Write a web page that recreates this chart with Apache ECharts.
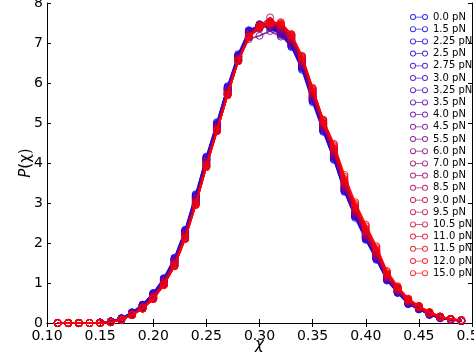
<!DOCTYPE html>
<html>
<head>
<meta charset="utf-8">
<script src="https://cdn.jsdelivr.net/npm/echarts@6/dist/echarts.min.js"></script>
<style>
  html, body { margin: 0; padding: 0; background: #fff; }
  #main { width: 474px; height: 356px; }
</style>
</head>
<body>
<div id="main"></div>
<script>
// chi values (x)
var chi = [0.11, 0.12, 0.13, 0.14, 0.15, 0.16, 0.17, 0.18, 0.19, 0.20,
  0.21, 0.22, 0.23, 0.24, 0.25, 0.26, 0.27, 0.28, 0.29, 0.30,
  0.31, 0.32, 0.33, 0.34, 0.35, 0.36, 0.37, 0.38, 0.39, 0.40,
  0.41, 0.42, 0.43, 0.44, 0.45, 0.46, 0.47, 0.48, 0.49];

var forces = ['0.0 pN', '1.5 pN', '2.25 pN', '2.5 pN', '2.75 pN', '3.0 pN', '3.25 pN', '3.5 pN',
  '4.0 pN', '4.5 pN', '5.5 pN', '6.0 pN', '7.0 pN', '8.0 pN', '8.5 pN', '9.0 pN', '9.5 pN',
  '10.5 pN', '11.0 pN', '11.5 pN', '12.0 pN', '15.0 pN'];

// P(chi) for each force
var p00 = [0,0,0,0,0.01,0.04,0.12,0.27,0.46,0.75,1.12,1.63,2.33,3.22,4.16,5.02,5.92,6.72,7.3,7.42,7.38,7.22,6.92,6.33,5.52,4.78,4.08,3.28,2.63,2.08,1.58,1.06,0.75,0.47,0.34,0.2,0.12,0.08,0.05];
var p15 = [0,0,0,0,0.01,0.04,0.12,0.26,0.45,0.74,1.11,1.62,2.31,3.2,4.14,5.0,5.9,6.7,7.32,7.44,7.4,7.2,6.9,6.36,5.55,4.8,4.1,3.3,2.66,2.1,1.6,1.08,0.76,0.48,0.35,0.21,0.12,0.08,0.05];
var p225 = [0,0,0,0,0.01,0.04,0.11,0.26,0.45,0.73,1.1,1.6,2.3,3.18,4.12,4.98,5.88,6.68,7.28,7.46,7.42,7.24,6.94,6.38,5.56,4.82,4.12,3.31,2.67,2.11,1.61,1.08,0.76,0.49,0.35,0.21,0.13,0.08,0.05];
var p25 = [0,0,0,0,0.01,0.04,0.11,0.25,0.44,0.72,1.09,1.6,2.29,3.17,4.11,4.97,5.87,6.68,7.3,7.43,7.45,7.26,6.95,6.4,5.58,4.83,4.13,3.33,2.68,2.12,1.62,1.09,0.77,0.49,0.35,0.22,0.13,0.08,0.05];
var p275 = [0,0,0,0,0.01,0.04,0.11,0.25,0.44,0.72,1.08,1.58,2.28,3.16,4.1,4.96,5.86,6.66,7.27,7.47,7.4,7.28,6.97,6.41,5.6,4.85,4.15,3.34,2.7,2.13,1.63,1.1,0.78,0.5,0.36,0.22,0.13,0.08,0.05];
var p30 = [0,0,0,0,0.01,0.04,0.11,0.25,0.43,0.71,1.08,1.58,2.27,3.15,4.09,4.95,5.85,6.66,7.29,7.44,7.48,7.27,6.98,6.42,5.61,4.86,4.16,3.35,2.71,2.14,1.64,1.1,0.78,0.5,0.36,0.22,0.13,0.09,0.05];
var p325 = [0,0,0,0,0.01,0.03,0.1,0.24,0.43,0.7,1.07,1.57,2.26,3.13,4.08,4.94,5.84,6.65,7.26,7.42,7.44,7.3,7.0,6.44,5.62,4.87,4.17,3.36,2.72,2.15,1.65,1.11,0.79,0.5,0.36,0.22,0.13,0.09,0.06];
var p35 = [0,0,0,0,0.01,0.03,0.1,0.24,0.42,0.7,1.06,1.56,2.25,3.12,4.07,4.93,5.83,6.64,7.25,7.45,7.5,7.28,7.02,6.45,5.64,4.88,4.18,3.37,2.73,2.16,1.66,1.12,0.79,0.51,0.37,0.23,0.13,0.09,0.06];
var p40 = [0,0,0,0,0.01,0.03,0.1,0.23,0.42,0.69,1.05,1.55,2.24,3.11,4.06,4.92,5.82,6.63,7.24,7.43,7.46,7.32,7.03,6.47,5.65,4.9,4.2,3.38,2.74,2.17,1.67,1.12,0.8,0.51,0.37,0.23,0.14,0.09,0.06];
var p45 = [0,0,0,0,0.01,0.03,0.1,0.23,0.41,0.68,1.04,1.54,2.23,3.1,4.05,4.91,5.81,6.62,7.22,7.4,7.52,7.3,7.05,6.48,5.67,4.91,4.21,3.4,2.75,2.18,1.68,1.13,0.8,0.52,0.37,0.23,0.14,0.09,0.06];
var p55 = [0,0,0,0,0.01,0.03,0.09,0.22,0.4,0.67,1.03,1.52,2.21,3.08,4.02,4.88,5.78,6.56,7.1,7.18,7.3,7.16,7.0,6.5,5.68,4.92,4.22,3.41,2.76,2.19,1.69,1.14,0.81,0.52,0.38,0.23,0.14,0.09,0.06];
var p60 = [0,0,0,0,0.01,0.03,0.09,0.22,0.4,0.66,1.02,1.51,2.2,3.06,4.01,4.88,5.78,6.6,7.2,7.38,7.45,7.36,7.08,6.52,5.7,4.93,4.24,3.42,2.77,2.2,1.7,1.15,0.82,0.53,0.38,0.24,0.14,0.09,0.06];
var p70 = [0,0,0,0,0.01,0.03,0.09,0.21,0.39,0.65,1.01,1.5,2.18,3.04,3.99,4.86,5.76,6.59,7.19,7.4,7.48,7.38,7.1,6.54,5.72,4.95,4.26,3.44,2.79,2.21,1.71,1.16,0.82,0.53,0.38,0.24,0.14,0.1,0.06];
var p80 = [0,0,0,0,0.01,0.03,0.09,0.21,0.38,0.64,1.0,1.49,2.17,3.03,3.98,4.85,5.75,6.58,7.18,7.36,7.5,7.4,7.12,6.55,5.74,4.96,4.28,3.46,2.8,2.23,1.72,1.17,0.83,0.54,0.39,0.24,0.15,0.1,0.06];
var p85 = [0,0,0,0,0.01,0.02,0.09,0.21,0.38,0.63,0.99,1.48,2.16,3.02,3.96,4.84,5.74,6.58,7.17,7.42,7.64,7.36,7.13,6.57,5.75,4.98,4.3,3.47,2.82,2.24,1.73,1.18,0.84,0.54,0.39,0.25,0.15,0.1,0.06];
var p90 = [0,0,0,0,0.01,0.02,0.08,0.2,0.37,0.62,0.98,1.46,2.14,3.0,3.95,4.83,5.73,6.57,7.16,7.38,7.46,7.42,7.15,6.58,5.77,4.99,4.32,3.49,2.84,2.26,1.75,1.19,0.85,0.55,0.4,0.25,0.15,0.1,0.06];
var p95 = [0,0,0,0,0,0.02,0.08,0.2,0.37,0.62,0.97,1.45,2.13,2.99,3.94,4.82,5.72,6.56,7.15,7.4,7.5,7.44,7.17,6.6,5.79,5.0,4.34,3.51,2.86,2.28,1.77,1.2,0.86,0.56,0.4,0.25,0.15,0.1,0.07];
var p105 = [0,0,0,0,0,0.02,0.08,0.2,0.36,0.61,0.96,1.44,2.12,2.98,3.93,4.81,5.71,6.56,7.14,7.38,7.48,7.46,7.18,6.62,5.81,5.02,4.36,3.53,2.88,2.3,1.79,1.21,0.87,0.57,0.41,0.26,0.16,0.1,0.07];
var p110 = [0,0,0,0,0,0.02,0.08,0.2,0.36,0.61,0.96,1.43,2.11,2.97,3.92,4.8,5.7,6.55,7.14,7.42,7.52,7.48,7.2,6.64,5.83,5.04,4.38,3.56,2.9,2.33,1.81,1.22,0.88,0.58,0.41,0.26,0.16,0.1,0.07];
var p115 = [0,0,0,0,0,0.02,0.08,0.2,0.36,0.6,0.95,1.43,2.1,2.96,3.91,4.8,5.7,6.55,7.15,7.4,7.46,7.5,7.22,6.66,5.86,5.06,4.42,3.6,2.94,2.37,1.84,1.24,0.89,0.59,0.42,0.27,0.16,0.1,0.07];
var p120 = [0,0,0,0,0,0.02,0.08,0.2,0.36,0.6,0.95,1.42,2.1,2.95,3.9,4.8,5.7,6.55,7.16,7.44,7.54,7.46,7.2,6.66,5.86,5.08,4.45,3.65,2.98,2.42,1.88,1.27,0.9,0.6,0.42,0.27,0.16,0.1,0.07];
var p150 = [0,0,0,0,0,0.02,0.08,0.2,0.36,0.6,0.95,1.42,2.1,2.95,3.9,4.8,5.7,6.55,7.15,7.42,7.5,7.52,7.22,6.68,5.88,5.08,4.48,3.7,3.02,2.46,1.92,1.3,0.92,0.61,0.43,0.27,0.16,0.1,0.07];

var allP = [p00, p15, p225, p25, p275, p30, p325, p35, p40, p45, p55, p60,
  p70, p80, p85, p90, p95, p105, p110, p115, p120, p150];

var xTicks = [0.10, 0.50];
var yTicks = [0, 8];

var myChart = echarts.init(document.getElementById('main'));

// blue -> red
function colorOf(i) {
  var f = i / (allP.length - 1);
  return 'rgba(' + Math.round(255 * f) + ',0,' + Math.round(255 * (1 - f)) + ',0.85)';
}

// open circle - line - open circle, like the matplotlib legend handle
var ringIcon = 'path://M0,4A4,4 0 1,1 8,4A4,4 0 1,1 0,4ZM1.2,4A2.8,2.8 0 1,0 6.8,4A2.8,2.8 0 1,0 1.2,4Z' +
  'M8,3.5L16,3.5L16,4.5L8,4.5Z' +
  'M16,4A4,4 0 1,1 24,4A4,4 0 1,1 16,4ZM17.2,4A2.8,2.8 0 1,0 22.8,4A2.8,2.8 0 1,0 17.2,4Z';

var series = [];
var legendData = [];
for (var i = 0; i < allP.length; i++) {
  var c = colorOf(i);
  var pts = [];
  for (var j = 0; j < chi.length; j++) {
    pts.push([chi[j], allP[i][j]]);
  }
  series.push({
    name: forces[i],
    type: 'line',
    data: pts,
    symbol: 'circle',
    symbolSize: 7,
    lineStyle: { color: c, width: 1.6 },
    itemStyle: { color: 'transparent', borderColor: c, borderWidth: 1 },
    emphasis: { disabled: true },
    z: 2 + i
  });
  legendData.push({ name: forces[i], icon: ringIcon, itemStyle: { color: c, borderWidth: 0 } });
}

var font = 'DejaVu Sans';
var tickStyle = { show: true, inside: true, length: 4, lineStyle: { color: '#000', width: 1 } };

var option = {
  animation: false,
  grid: { left: 47, right: 2, top: 3, bottom: 33, outerBoundsMode: 'none', containLabel: false },
  legend: {
    data: legendData,
    orient: 'vertical',
    left: 405,
    top: 7,
    itemWidth: 18,
    itemHeight: 6,
    itemGap: 2.2,
    textStyle: { fontFamily: font, fontSize: 10, color: '#000' },
    selectedMode: false
  },
  xAxis: [{
    type: 'value',
    min: xTicks[0],
    max: xTicks[1],
    interval: 0.05,
    name: 'χ',
    nameLocation: 'middle',
    nameGap: 15,
    nameMoveOverlap: false,
    nameTextStyle: { fontFamily: font, fontSize: 15, fontStyle: 'italic', color: '#000' },
    axisLine: { show: true, lineStyle: { color: '#000', width: 1 } },
    axisTick: tickStyle,
    splitLine: { show: false },
    axisLabel: {
      fontFamily: font, fontSize: 14, color: '#000', margin: 6,
      formatter: function (v) { return v.toFixed(2); }
    }
  }, {
    type: 'value',
    position: 'top',
    min: xTicks[0],
    max: xTicks[1],
    interval: 0.05,
    axisLine: { show: true, lineStyle: { color: '#000', width: 1 } },
    axisTick: tickStyle,
    axisLabel: { show: false },
    splitLine: { show: false }
  }],
  yAxis: [{
    type: 'value',
    min: yTicks[0],
    max: yTicks[1],
    interval: 1,
    name: '{i|P}(χ)',
    nameLocation: 'middle',
    nameGap: 13,
    nameMoveOverlap: false,
    nameRotate: 90,
    nameTextStyle: {
      fontFamily: font, fontSize: 15, color: '#000',
      rich: { i: { fontFamily: font, fontSize: 15, fontStyle: 'italic', color: '#000' } }
    },
    axisLine: { show: true, lineStyle: { color: '#000', width: 1 } },
    axisTick: tickStyle,
    splitLine: { show: false },
    axisLabel: { fontFamily: font, fontSize: 14, color: '#000', margin: 4 }
  }, {
    type: 'value',
    position: 'right',
    min: yTicks[0],
    max: yTicks[1],
    interval: 1,
    axisLine: { show: true, lineStyle: { color: '#000', width: 1 } },
    axisTick: tickStyle,
    axisLabel: { show: false },
    splitLine: { show: false }
  }],
  series: series
};

myChart.setOption(option);
</script>
</body>
</html>
